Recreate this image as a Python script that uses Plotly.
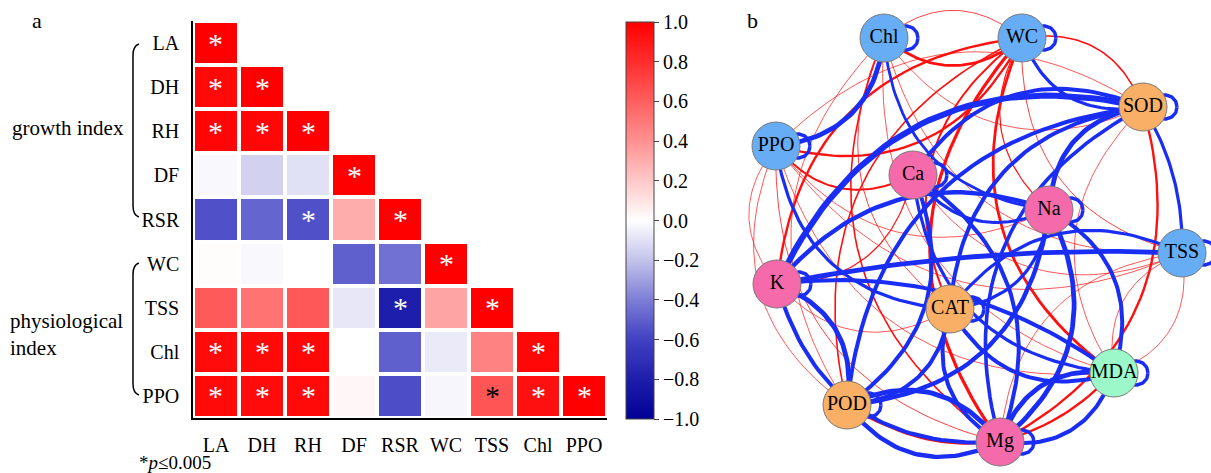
import plotly.graph_objects as go
import numpy as np

W, H = 1211, 473
FONT = "Liberation Serif, Times New Roman, serif"

# ---------------- panel a data ----------------
labels = ["LA", "DH", "RH", "DF", "RSR", "WC", "TSS", "Chl", "PPO"]
r_LA = [1.00]
r_DH = [0.96, 1.00]
r_RH = [0.98, 0.97, 1.00]
r_DF = [-0.02, -0.15, -0.10, 1.00]
r_RSR = [-0.55, -0.48, -0.55, 0.30, 1.00]
r_WC = [0.01, -0.02, 0.00, -0.50, -0.44, 1.00]
r_TSS = [0.62, 0.52, 0.63, -0.08, -0.80, 0.33, 1.00]
r_Chl = [0.95, 0.96, 0.97, 0.00, -0.50, -0.07, 0.46, 0.97]
r_PPO = [0.96, 0.95, 0.96, 0.03, -0.56, -0.03, 0.64, 0.93, 1.00]
rows = [r_LA, r_DH, r_RH, r_DF, r_RSR, r_WC, r_TSS, r_Chl, r_PPO]

sig_row = ["LA", "DH", "DH", "RH", "RH", "RH", "DF", "RSR", "RSR", "WC", "TSS", "TSS",
           "Chl", "Chl", "Chl", "Chl", "PPO", "PPO", "PPO", "PPO", "PPO", "PPO"]
sig_col = ["LA", "LA", "DH", "LA", "DH", "RH", "DF", "RH", "RSR", "WC", "RSR", "TSS",
           "LA", "DH", "RH", "Chl", "LA", "DH", "RH", "TSS", "Chl", "PPO"]

cbar_ticks = [1.0, 0.8, 0.6, 0.4, 0.2, 0.0, -0.2, -0.4, -0.6, -0.8, -1.0]

# ---------------- panel b data ----------------
node_names = ["Chl", "WC", "SOD", "PPO", "Ca", "Na", "TSS", "K", "CAT", "MDA", "POD", "Mg"]
node_kind = ["phys", "phys", "enz", "phys", "ion", "ion", "phys", "ion", "enz", "mda", "enz", "ion"]
# network layout positions (layout units)
node_x = [884, 1022, 1143, 776, 913, 1049, 1182, 777, 950, 1114, 847, 1000]
node_y = [38, 38, 107, 146, 175, 210, 253, 284, 309, 373, 405, 442]

edge_src = ["Chl", "WC", "PPO", "SOD", "PPO", "Chl", "Chl", "Chl", "Chl", "Chl",
            "WC", "WC", "WC", "WC", "WC", "WC", "SOD", "WC",
            "PPO", "PPO", "PPO", "PPO", "PPO", "PPO",
            "TSS", "MDA", "TSS", "POD", "K", "K", "Mg", "SOD", "Ca", "Chl",
            "PPO", "SOD", "SOD", "SOD", "SOD", "SOD", "TSS", "WC", "SOD",
            "TSS", "MDA", "K", "POD", "Mg", "POD", "POD", "POD", "POD",
            "CAT", "CAT", "CAT", "MDA", "Mg", "MDA", "Mg", "Mg", "Chl",
            "PPO", "TSS", "Ca", "Ca", "Na"]
edge_tgt = ["WC", "Chl", "WC", "PPO", "Ca", "CAT", "Mg", "MDA", "TSS", "POD",
            "CAT", "Mg", "MDA", "POD", "K", "TSS", "WC", "Na",
            "Na", "MDA", "Mg", "POD", "K", "TSS",
            "MDA", "TSS", "Mg", "MDA", "CAT", "Ca", "SOD", "MDA", "TSS", "SOD",
            "Chl", "K", "Na", "CAT", "POD", "Mg", "SOD", "SOD", "Ca",
            "K", "K", "Mg", "K", "POD", "Mg", "CAT", "Na", "Ca",
            "MDA", "Mg", "Na", "Mg", "MDA", "Na", "Na", "Ca", "Na",
            "CAT", "CAT", "Na", "MDA", "K"]
edge_r = [0.55, 0.30, 0.50, 0.25, 0.45, 0.30, 0.40, 0.25, 0.25, 0.20,
          0.45, 0.60, 0.55, 0.40, 0.50, 0.30, 0.40, 0.35,
          0.25, 0.25, 0.30, 0.20, 0.20, 0.20,
          0.25, 0.22, 0.25, 0.50, 0.25, 0.35, 0.50, 0.25, 0.25, 0.22,
          -0.80, -0.95, -0.80, -0.70, -0.70, -0.65, -0.60, -0.60, -0.70,
          -0.80, -0.70, -0.70, -0.80, -0.80, -0.75, -0.70, -0.75, -0.70,
          -0.70, -0.70, -0.60, -0.80, -0.70, -0.70, -0.80, -0.70, -0.55,
          -0.60, -0.60, -0.60, -0.60, -0.75]

# ---------------- figure ----------------
fig = go.Figure()

z = []
for i in range(len(labels)):
    row = list(rows[i]) + [None] * (len(labels) - len(rows[i]))
    z.append(row)

cscale = [
    [0.0, "rgb(0,0,150)"], [0.1, "rgb(30,30,172)"], [0.2, "rgb(65,65,195)"],
    [0.3, "rgb(125,125,215)"], [0.4, "rgb(195,195,235)"], [0.5, "rgb(255,255,255)"],
    [0.6, "rgb(255,200,200)"], [0.7, "rgb(255,145,145)"], [0.8, "rgb(255,95,95)"],
    [0.9, "rgb(255,45,45)"], [1.0, "rgb(255,0,0)"],
]

fig.add_trace(go.Heatmap(
    z=z, x=labels, y=labels, zmin=-1, zmax=1, colorscale=cscale,
    xgap=4, ygap=4, hoverinfo="skip",
    colorbar=dict(
        x=626 / W, xanchor="left", xpad=0, ypad=0,
        y=1 - 220.5 / H, yanchor="middle",
        len=397, lenmode="pixels", thickness=28, thicknessmode="pixels",
        outlinewidth=1, outlinecolor="#444",
        tickmode="array", tickvals=cbar_ticks,
        ticktext=[("%.1f" % v).replace("-", "\u2212") for v in cbar_ticks],
        ticks="outside", ticklen=5, tickcolor="#444",
        tickfont=dict(family=FONT, size=20, color="black"),
    ),
))

annotations = []
for rr, cc in zip(sig_row, sig_col):
    ri = labels.index(rr)
    ci = labels.index(cc)
    val = rows[ri][ci]
    col = "black" if 0 < val < 0.75 else "white"
    annotations.append(dict(x=cc, y=rr, xref="x", yref="y", text="*", showarrow=False,
                            font=dict(family=FONT, size=30, color=col), yshift=0))

# ---- network ----
idx = {n: i for i, n in enumerate(node_names)}
RED = "#FF1010"
BLUE = "#1A2DF5"
K_CURVE = 0.4
bend_override = {("TSS", "K"): 0.06, ("MDA", "K"): 0.2, ("TSS", "SOD"): 0.15,
                 ("Na", "K"): 0.35}
tt = np.linspace(0, 1, 40)
order = sorted(range(len(edge_r)), key=lambda k: (edge_r[k] < 0, abs(edge_r[k])))
for k in order:
    a, b = idx[edge_src[k]], idx[edge_tgt[k]]
    kc = bend_override.get((edge_src[k], edge_tgt[k]), K_CURVE)
    x0, y0, x2, y2 = node_x[a], node_y[a], node_x[b], node_y[b]
    dx, dy = x2 - x0, y2 - y0
    cx = (x0 + x2) / 2 - kc * dy
    cy = (y0 + y2) / 2 + kc * dx
    bx = (1 - tt) ** 2 * x0 + 2 * (1 - tt) * tt * cx + tt ** 2 * x2
    by = (1 - tt) ** 2 * y0 + 2 * (1 - tt) * tt * cy + tt ** 2 * y2
    r = edge_r[k]
    w = max(0.7, 8 * abs(r) - 1.6)
    fig.add_trace(go.Scatter(x=bx, y=by, mode="lines", xaxis="x2", yaxis="y2",
                             line=dict(color=RED if r > 0 else BLUE, width=w),
                             hoverinfo="skip", showlegend=False))

# self loops
th = np.linspace(0, 2 * np.pi, 60)
for i in range(len(node_names)):
    fig.add_trace(go.Scatter(x=node_x[i] + 22 + 12 * np.cos(th), y=node_y[i] + 12 * np.sin(th),
                             mode="lines", xaxis="x2", yaxis="y2",
                             line=dict(color=BLUE, width=3.5), hoverinfo="skip", showlegend=False))

kind_color = {"phys": "#66ADF5", "enz": "#F9AF66", "ion": "#F46AAA", "mda": "#9CF8C9"}
fig.add_trace(go.Scatter(
    x=node_x, y=node_y, mode="markers+text", xaxis="x2", yaxis="y2",
    marker=dict(size=48, color=[kind_color[k] for k in node_kind], line=dict(color="#7a7a7a", width=1)),
    text=node_names, textposition="middle center",
    textfont=dict(family=FONT, size=20, color="black"),
    hoverinfo="skip", showlegend=False,
))

# ---- texts ----
def ptxt(x, y, text, size=20, xanchor="center", align="center"):
    annotations.append(dict(x=x / W, y=1 - y / H, xref="paper", yref="paper", text=text,
                            showarrow=False, xanchor=xanchor, yanchor="middle", align=align,
                            font=dict(family=FONT, size=size, color="black")))

ptxt(37, 20, "a", 22)
ptxt(753, 20, "b", 22)
ptxt(10, 128, "growth index", 21, xanchor="left")
ptxt(8, 334, "physiological<br>index", 21, xanchor="left", align="left")
ptxt(137, 462, "*<i>p</i>\u22640.005", 19, xanchor="left")

def bracket(y0, y1, x=133):
    p = lambda X, Y: "%.5f,%.5f" % (X / W, 1 - Y / H)
    return dict(type="path", xref="paper", yref="paper",
                path="M %s Q %s %s L %s Q %s %s" % (
                    p(x + 6, y0), p(x, y0 + 2), p(x, y0 + 11),
                    p(x, y1 - 11), p(x, y1 - 2), p(x + 6, y1)),
                line=dict(color="black", width=1.5))

shapes = [bracket(44, 217), bracket(263, 395)]

axfont = dict(family=FONT, size=20, color="black")
fig.update_layout(
    width=W, height=H, margin=dict(l=0, r=0, t=0, b=0),
    paper_bgcolor="white", plot_bgcolor="white",
    showlegend=False,
    annotations=annotations, shapes=shapes,
    xaxis=dict(domain=[193 / W, 607 / W], type="category", showline=True, linecolor="black",
               linewidth=1.5, ticks="", tickfont=axfont, showgrid=False, zeroline=False,
               ticklabelstandoff=8),
    yaxis=dict(domain=[1 - 418 / H, 1 - 21 / H], type="category", autorange="reversed",
               showline=True, linecolor="black", linewidth=1.5, ticks="", tickfont=axfont,
               showgrid=False, zeroline=False, ticklabelstandoff=8),
    xaxis2=dict(domain=[745 / W, 1], range=[745, 1211], visible=False, fixedrange=True),
    yaxis2=dict(domain=[0, 1], range=[473, 0], visible=False, fixedrange=True, anchor="x2"),
)
fig.update_traces(selector=dict(xaxis="x2"), cliponaxis=False)

fig.write_html("out.html", config={"displayModeBar": False},
               post_script="document.body.style.margin='0';document.body.style.overflow='hidden';")
